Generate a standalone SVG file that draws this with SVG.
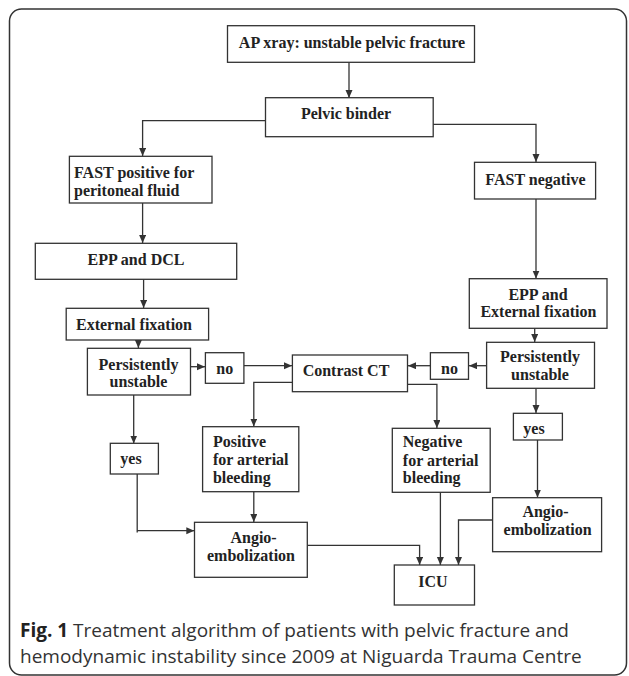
<svg xmlns="http://www.w3.org/2000/svg" width="629" height="676" viewBox="0 0 629 676">
<defs>
<style>
.box{fill:#fff;stroke:#333;stroke-width:1.3}
.t{font-family:"Liberation Serif","Times New Roman",serif;font-weight:bold;font-size:16px;fill:#222;text-anchor:middle}
.tl{font-family:"Liberation Serif","Times New Roman",serif;font-weight:bold;font-size:16px;fill:#222}
.c{fill:none;stroke:#333;stroke-width:1.3}
.cap{font-family:"Open Sans","Noto Sans",sans-serif;font-size:19px;fill:#333}
</style>
<marker id="ah" markerUnits="userSpaceOnUse" markerWidth="9" markerHeight="8" refX="8" refY="3.5" orient="auto">
<path d="M0,0 L8,3.5 L0,7 z" fill="#333"/>
</marker>
</defs>
<rect width="629" height="676" fill="#fff"/>
<rect x="9.5" y="9" width="617" height="666" rx="12" fill="none" stroke="#333" stroke-width="1.5"/>

<g id="connectors">
<path class="c" d="M349,62 V98" marker-end="url(#ah)"/>
<path class="c" d="M265.5,120.7 H142.6 V156" marker-end="url(#ah)"/>
<path class="c" d="M433,124.3 H536 V162" marker-end="url(#ah)"/>
<path class="c" d="M142.6,203 V243" marker-end="url(#ah)"/>
<path class="c" d="M536,199 V278.5" marker-end="url(#ah)"/>
<path class="c" d="M143.6,279.3 V308" marker-end="url(#ah)"/>
<path class="c" d="M138.4,340 V348" marker-end="url(#ah)"/>
<path class="c" d="M534.7,328.3 V342" marker-end="url(#ah)"/>
<path class="c" d="M190.5,366.7 H205" marker-end="url(#ah)"/>
<path class="c" d="M244,365.7 H292" marker-end="url(#ah)"/>
<path class="c" d="M430.4,365.7 H408" marker-end="url(#ah)"/>
<path class="c" d="M486.6,365.7 H469" marker-end="url(#ah)"/>
<path class="c" d="M292.4,382.3 H253.8 V426.5" marker-end="url(#ah)"/>
<path class="c" d="M407.5,384.3 H436.9 V428" marker-end="url(#ah)"/>
<path class="c" d="M133.7,395 V443.5" marker-end="url(#ah)"/>
<path class="c" d="M536,388.3 V413" marker-end="url(#ah)"/>
<path class="c" d="M137.2,474 V532.5"/>
<path class="c" d="M137.2,530.7 H194.3" marker-end="url(#ah)"/>
<path class="c" d="M253.8,491.7 V522" marker-end="url(#ah)"/>
<path class="c" d="M537.5,440 V497.5" marker-end="url(#ah)"/>
<path class="c" d="M307.3,545.3 H419.6 V565" marker-end="url(#ah)"/>
<path class="c" d="M440.4,492.3 V565" marker-end="url(#ah)"/>
<path class="c" d="M493,520 H458.5 V565" marker-end="url(#ah)"/>
</g>

<g id="n-apxray"><rect class="box" x="227.5" y="25.7" width="247" height="36.6"/><text class="t" x="352" y="47.5">AP xray: unstable pelvic fracture</text></g>
<g id="n-binder"><rect class="box" x="265.5" y="97.7" width="167.7" height="39"/><text class="t" x="346" y="118.5">Pelvic binder</text></g>
<g id="n-fastpos"><rect class="box" x="69.4" y="156.3" width="142.6" height="46.7"/><text class="tl" x="74" y="178">FAST positive for</text><text class="tl" x="74" y="196">peritoneal fluid</text></g>
<g id="n-fastneg"><rect class="box" x="474.5" y="162.3" width="121.1" height="36.7"/><text class="t" x="535.5" y="185">FAST negative</text></g>
<g id="n-eppdcl"><rect class="box" x="35.3" y="243.3" width="201.4" height="36"/><text class="t" x="136" y="264.5">EPP and DCL</text></g>
<g id="n-extfix"><rect class="box" x="66.2" y="308.3" width="142.4" height="31.7"/><text class="t" x="134" y="329.5">External fixation</text></g>
<g id="n-eppext"><rect class="box" x="469.3" y="278.7" width="137.7" height="49.6"/><text class="t" x="538" y="299.5">EPP and</text><text class="t" x="538.4" y="317">External fixation</text></g>
<g id="n-pu-left"><rect class="box" x="87.4" y="348.3" width="103.1" height="46.7"/><text class="t" x="138.5" y="370">Persistently</text><text class="t" x="138.5" y="387">unstable</text></g>
<g id="n-no-left"><rect class="box" x="205.4" y="352.7" width="38.5" height="30.6"/><text class="t" x="224.7" y="374">no</text></g>
<g id="n-ct"><rect class="box" x="292.4" y="355" width="115.1" height="36.7"/><text class="t" x="346" y="376">Contrast CT</text></g>
<g id="n-no-right"><rect class="box" x="430.4" y="352.7" width="38.1" height="26.6"/><text class="t" x="449.5" y="374">no</text></g>
<g id="n-pu-right"><rect class="box" x="486.6" y="342.3" width="107.9" height="46"/><text class="t" x="540" y="362">Persistently</text><text class="t" x="540" y="380">unstable</text></g>
<g id="n-yes-right"><rect class="box" x="513.4" y="413.3" width="49" height="26.7"/><text class="t" x="534" y="433.5">yes</text></g>
<g id="n-positive"><rect class="box" x="202.6" y="426.7" width="96.2" height="65"/><text class="tl" x="212.9" y="447">Positive</text><text class="tl" x="212.9" y="465">for arterial</text><text class="tl" x="212.9" y="482.7">bleeding</text></g>
<g id="n-negative"><rect class="box" x="392.3" y="428.3" width="97.9" height="64"/><text class="tl" x="402.8" y="447">Negative</text><text class="tl" x="402.8" y="466">for arterial</text><text class="tl" x="402.8" y="483">bleeding</text></g>
<g id="n-yes-left"><rect class="box" x="110.3" y="443.3" width="48.1" height="30.7"/><text class="t" x="131" y="464">yes</text></g>
<g id="n-angio-left"><rect class="box" x="194.5" y="522.3" width="112.8" height="55"/><text class="t" x="253.6" y="543.3">Angio-</text><text class="t" x="251" y="560.5">embolization</text></g>
<g id="n-angio-right"><rect class="box" x="492.6" y="497.7" width="109" height="54"/><text class="t" x="545.5" y="517">Angio-</text><text class="t" x="547.6" y="535">embolization</text></g>
<g id="n-icu"><rect class="box" x="394.3" y="565" width="80.2" height="40"/><text class="t" x="433" y="587">ICU</text></g>

<g id="caption">
<text class="cap" x="20" y="637"><tspan font-weight="bold" fill="#222">Fig. 1</tspan> Treatment algorithm of patients with pelvic fracture and</text>
<text class="cap" x="20" y="663">hemodynamic instability since 2009 at Niguarda Trauma Centre</text>
</g>
</svg>
